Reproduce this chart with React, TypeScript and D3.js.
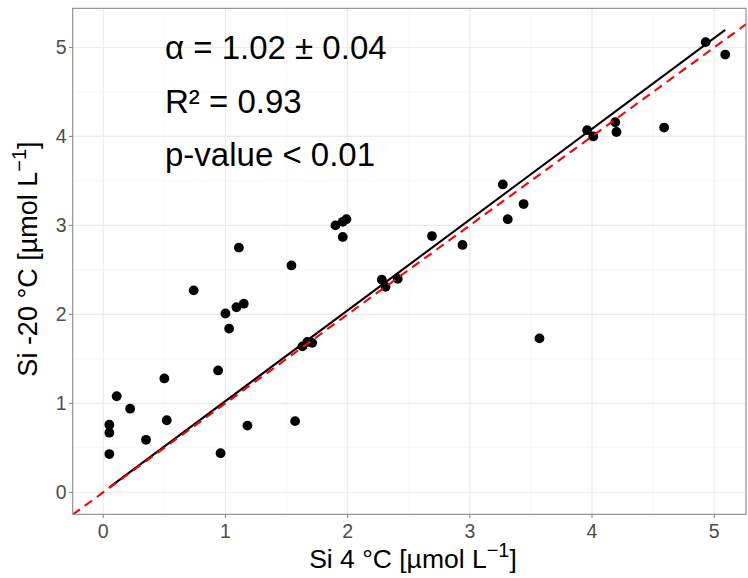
import React from "react";
import * as d3 from "d3";

const si4C = [0.05, 0.05, 0.05, 0.11, 0.22, 0.35, 0.50, 0.52, 0.74, 0.94, 0.96, 1.0, 1.03, 1.09, 1.15, 1.11, 1.18, 1.54, 1.57, 1.63, 1.67, 1.71, 1.90, 1.96, 1.96, 1.99, 2.28, 2.31, 2.41, 2.69, 2.94, 3.27, 3.31, 3.44, 3.57, 3.96, 4.01, 4.19, 4.20, 4.59, 4.93, 5.09];
const siMinus20C = [0.76, 0.67, 0.43, 1.08, 0.94, 0.59, 1.28, 0.81, 2.27, 1.37, 0.44, 2.01, 1.84, 2.08, 2.12, 2.75, 0.75, 2.55, 0.80, 1.64, 1.69, 1.68, 3.0, 3.04, 2.87, 3.07, 2.39, 2.31, 2.40, 2.88, 2.78, 3.46, 3.07, 3.24, 1.73, 4.07, 4.0, 4.16, 4.05, 4.10, 5.06, 4.92];
const fitSlope = 1.02;
const fitIntercept = 0.005;
const xTicks = [0, 1, 2, 3, 4, 5];
const yTicks = [0, 1, 2, 3, 4, 5];
const annotations = ["α = 1.02 ± 0.04", "R² = 0.93", "p-value < 0.01"];

const W = 748, H = 578;
const M = { left: 72.7, right: 746, top: 8.3, bottom: 514.3 };
const FONT = "'Liberation Sans', Arial, sans-serif";

export default function App() {
  const x = d3.scaleLinear().domain([-0.25, 5.26]).range([M.left, M.right]);
  const y = d3.scaleLinear().domain([-0.247, 5.44]).range([M.bottom, M.top]);
  const xMin = d3.min(si4C)!, xMax = d3.max(si4C)!;
  const fitLine = d3.line<number>().x(d => x(d)).y(d => y(fitSlope * d + fitIntercept));
  const xMinor = xTicks.map(t => t + 0.5).filter(v => v > -0.25 && v < 5.26);
  const yMinor = yTicks.map(t => t + 0.5).filter(v => v > -0.247 && v < 5.44);
  const dom = x.domain();
  return (
    <svg width={W} height={H} style={{ position: "fixed", left: 0, top: 0, background: "#fff" }} fontFamily={FONT}>
      <defs>
        <clipPath id="panel">
          <rect x={M.left} y={M.top} width={M.right - M.left} height={M.bottom - M.top} />
        </clipPath>
      </defs>
      <rect x={M.left} y={M.top} width={M.right - M.left} height={M.bottom - M.top} fill="#fff" />
      {xMinor.map(v => <line key={"xm" + v} x1={x(v)} x2={x(v)} y1={M.top} y2={M.bottom} stroke="#F3F3F3" strokeWidth={0.6} />)}
      {yMinor.map(v => <line key={"ym" + v} y1={y(v)} y2={y(v)} x1={M.left} x2={M.right} stroke="#F3F3F3" strokeWidth={0.6} />)}
      {xTicks.map(v => <line key={"xg" + v} x1={x(v)} x2={x(v)} y1={M.top} y2={M.bottom} stroke="#EBEBEB" strokeWidth={1.1} />)}
      {yTicks.map(v => <line key={"yg" + v} y1={y(v)} y2={y(v)} x1={M.left} x2={M.right} stroke="#EBEBEB" strokeWidth={1.1} />)}
      <g clipPath="url(#panel)">
        {si4C.map((v, i) => <circle key={i} cx={x(v)} cy={y(siMinus20C[i])} r={4.9} fill="#000" />)}
        <path d={fitLine([xMin, xMax]) || ""} stroke="#000" strokeWidth={2.1} fill="none" />
        <line x1={x(dom[0] - 0.1)} y1={y(dom[0] - 0.1)} x2={x(dom[1] + 0.3)} y2={y(dom[1] + 0.3)} stroke="#FF0000" strokeWidth={2.1} strokeDasharray="9,6" />
      </g>
      <rect x={M.left} y={M.top} width={M.right - M.left} height={M.bottom - M.top} fill="none" stroke="#8A8A8A" strokeWidth={1.1} />
      {xTicks.map(v => (
        <g key={"xt" + v}>
          <line x1={x(v)} x2={x(v)} y1={M.bottom} y2={M.bottom + 3.7} stroke="#8A8A8A" strokeWidth={1.1} />
          <text x={x(v)} y={M.bottom + 23.5} textAnchor="middle" fontSize={19.5} fill="#4D4D4D">{v}</text>
        </g>
      ))}
      {yTicks.map(v => (
        <g key={"yt" + v}>
          <line x1={M.left - 3.7} x2={M.left} y1={y(v)} y2={y(v)} stroke="#8A8A8A" strokeWidth={1.1} />
          <text x={M.left - 6} y={y(v) + 7} textAnchor="end" fontSize={19.5} fill="#4D4D4D">{v}</text>
        </g>
      ))}
      {annotations.map((t, i) => (
        <text key={t} x={165} y={59 + i * 53.5} fontSize={33} fill="#000">{t}</text>
      ))}
      <text x={413} y={568} textAnchor="middle" fontSize={26.5} fill="#000">
        Si 4 °C [µmol L<tspan dy={-11} fontSize={20}>−1</tspan><tspan dy={11}>]</tspan>
      </text>
      <text transform={`translate(37,259) rotate(-90)`} textAnchor="middle" fontSize={27} fill="#000">
        Si -20 °C [µmol L<tspan dy={-11} fontSize={20}>−1</tspan><tspan dy={11}>]</tspan>
      </text>
    </svg>
  );
}
